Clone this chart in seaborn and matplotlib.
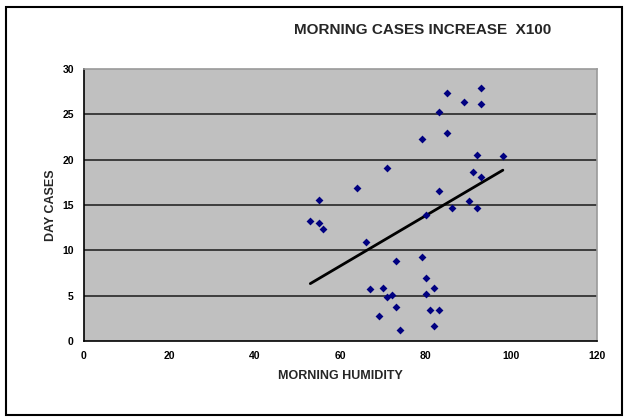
import numpy as np
import pandas as pd
import matplotlib
matplotlib.use("Agg")
import matplotlib.pyplot as plt
import seaborn as sns
from matplotlib.patches import Rectangle

humidity = [53, 55, 55, 56, 64, 66, 67, 69, 70, 71, 71, 72, 73, 73, 74,
            79, 79, 80, 80, 80, 81, 82, 82, 83, 83, 83, 85, 85, 86, 89,
            90, 91, 92, 92, 93, 93, 93, 98]
day_cases = [13.2, 15.6, 13.05, 12.3, 16.9, 10.9, 5.7, 2.8, 5.9, 19.1, 4.9, 5.1, 8.85, 3.7, 1.2,
             22.3, 9.3, 13.9, 6.9, 5.2, 3.4, 5.8, 1.6, 25.3, 16.5, 3.4, 27.3, 22.9, 14.7, 26.4,
             15.4, 18.6, 20.5, 14.7, 27.9, 26.1, 18.1, 20.4]
x_ticks = [0, 20, 40, 60, 80, 100, 120]
y_ticks = [0, 5, 10, 15, 20, 25, 30]
title = "MORNING CASES INCREASE  X100"
x_label = "MORNING HUMIDITY"
y_label = "DAY CASES"

df = pd.DataFrame({"humidity": humidity, "cases": day_cases})

sns.set_style("white")
plt.rcParams["font.family"] = ["Liberation Sans", "DejaVu Sans"]

fig = plt.figure(figsize=(6.26, 4.17), dpi=100)
ax = fig.add_axes([83.5 / 626, 1 - 341 / 417, (597 - 83.5) / 626, (341 - 69) / 417])
ax.set_facecolor("#C0C0C0")

for yv in y_ticks[1:-1]:
    ax.axhline(yv, color="#333333", lw=1.3, zorder=1)

sns.regplot(data=df, x="humidity", y="cases", ax=ax, ci=None, truncate=True, marker="D",
            scatter_kws=dict(s=16, color="#000080", edgecolors="#000080",
                             linewidths=0, zorder=3, alpha=1),
            line_kws=dict(color="black", lw=2, zorder=2))

ax.set_xlim(0, 120)
ax.set_ylim(0, 30)
ax.set_xticks(x_ticks)
ax.set_yticks(y_ticks)
ax.tick_params(axis="both", direction="out", length=3, width=1, colors="black",
               labelsize=7.5, pad=4)
for lab in ax.get_xticklabels() + ax.get_yticklabels():
    lab.set_fontweight("bold")
ax.set_xlabel(x_label, fontsize=9, fontweight="heavy", labelpad=7)
ax.set_ylabel(y_label, fontsize=9, fontweight="heavy", labelpad=4)

for side in ["left", "bottom"]:
    ax.spines[side].set_color("black")
    ax.spines[side].set_linewidth(1.2)
for side in ["top", "right"]:
    ax.spines[side].set_visible(True)
    ax.spines[side].set_color("#9A9A9A")
    ax.spines[side].set_linewidth(1.2)

fig.text(423 / 626, 1 - 30 / 417, title, ha="center", va="center",
         fontsize=11, fontweight="bold")

fig.patches.append(Rectangle((6 / 626, 1 - 415 / 417), (622 - 6) / 626, (415 - 7) / 417,
                             transform=fig.transFigure, fill=False, edgecolor="black",
                             lw=1.5, zorder=10))

fig.savefig("out.png", dpi=100)
